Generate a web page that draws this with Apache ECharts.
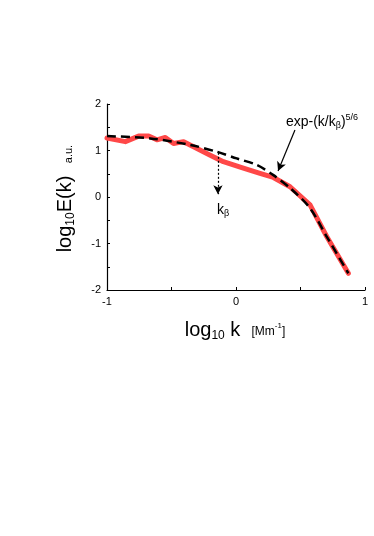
<!DOCTYPE html>
<html>
<head>
<meta charset="utf-8">
<script src="https://cdn.jsdelivr.net/npm/echarts@6/dist/echarts.min.js"></script>
<style>
  html, body { margin: 0; padding: 0; background: #fff; }
  #chart { width: 374px; height: 536px; }
</style>
</head>
<body>
<div id="chart"></div>
<script>
// measured spectrum (red) and fitted exp-(k/kb)^5/6 curve (dashed)
const measuredLogK = [-1, -0.858, -0.755, -0.677, -0.613, -0.548, -0.484, -0.406, -0.329, -0.2, -0.098, 0.057, 0.186, 0.29, 0.419, 0.574, 0.703, 0.871];
const measuredLogE = [1.27, 1.19, 1.31, 1.31, 1.23, 1.28, 1.15, 1.19, 1.08, 0.9, 0.76, 0.62, 0.51, 0.42, 0.22, -0.17, -0.85, -1.64];
const fitLogK = [-1, -0.665, -0.355, -0.15, 0.005, 0.16, 0.29, 0.42, 0.574, 0.703, 0.871];
const fitLogE = [1.31, 1.26, 1.12, 0.975, 0.83, 0.69, 0.47, 0.19, -0.24, -0.85, -1.64];
const xTicks = [-1, 0, 1];
const yTicks = [-2, -1, 0, 1, 2];
// annotation arrows [from, to] in data coords
const kbArrow = [[-0.14, 0.95], [-0.14, 0.06]];
const fitArrow = [[0.457, 1.44], [0.326, 0.56]];

const font = 'Liberation Sans, Arial, sans-serif';
const zip = (xs, ys) => xs.map((x, i) => [x, ys[i]]);

const chart = echarts.init(document.getElementById('chart'));
const axisCommon = {
    type: 'value',
    interval: 0.5,
    axisLine: { show: true, onZero: false, lineStyle: { color: '#000', width: 1.2 } },
    axisTick: { show: true, inside: true, length: 3, lineStyle: { color: '#000' } },
    splitLine: { show: false },
    axisLabel: {
        color: '#000', fontFamily: font, fontSize: 11,
        formatter: v => (Number.isInteger(v) ? String(v) : '')
    }
};
chart.setOption({
    animation: false,
    grid: { left: 107, right: 9, top: 104, bottom: 246 },
    xAxis: Object.assign({}, axisCommon, { min: xTicks[0], max: xTicks[xTicks.length - 1],
        axisLabel: Object.assign({}, axisCommon.axisLabel, { margin: 6 }) }),
    yAxis: Object.assign({}, axisCommon, { min: yTicks[0], max: yTicks[yTicks.length - 1],
        axisLabel: Object.assign({}, axisCommon.axisLabel, { margin: 6 }) }),
    series: [
        {
            type: 'line',
            data: zip(measuredLogK, measuredLogE),
            showSymbol: false,
            lineStyle: { color: '#ff4848', width: 5, cap: 'round', join: 'round' },
            z: 2
        },
        {
            type: 'line',
            data: zip(fitLogK, fitLogE),
            showSymbol: false,
            smooth: 0.3,
            lineStyle: { color: '#000', width: 2.5, type: [9, 5] },
            z: 3,
            markLine: {
                silent: true,
                symbol: ['none', 'arrow'],
                symbolSize: [7, 9],
                label: { show: false },
                data: [
                    [{ coord: kbArrow[0], lineStyle: { type: [2, 2], width: 1.2, color: '#000' } }, { coord: kbArrow[1] }],
                    [{ coord: fitArrow[0], lineStyle: { type: 'solid', width: 1.2, color: '#000' } }, { coord: fitArrow[1] }]
                ]
            }
        }
    ],
    graphic: [
        {
            type: 'text', x: 65, y: 214, rotation: Math.PI / 2,
            style: {
                text: '{a|log}{s|10}{a|E(k)}', align: 'center', verticalAlign: 'middle',
                fill: '#000', font: '20px ' + font,
                rich: {
                    a: { fontSize: 20, fontFamily: font, lineHeight: 24 },
                    s: { fontSize: 12, fontFamily: font, lineHeight: 24, verticalAlign: 'bottom', padding: [8, 0, 0, 0] }
                }
            }
        },
        {
            type: 'text', x: 69, y: 154, rotation: Math.PI / 2,
            style: { text: 'a.u.', align: 'center', verticalAlign: 'middle', fill: '#000', font: '11px ' + font }
        },
        {
            type: 'text', x: 235, y: 330,
            style: {
                text: '{a|log}{s|10}{a| k  }{b|[Mm}{p|-1}{b|]}', align: 'center', verticalAlign: 'middle',
                fill: '#000', font: '20px ' + font,
                rich: {
                    a: { fontSize: 20, fontFamily: font, lineHeight: 24 },
                    s: { fontSize: 12, fontFamily: font, lineHeight: 24, verticalAlign: 'bottom', padding: [8, 0, 0, 0] },
                    b: { fontSize: 12, fontFamily: font, lineHeight: 24, padding: [4, 0, 0, 0] },
                    p: { fontSize: 8, fontFamily: font, lineHeight: 24, padding: [0, 0, 8, 0] }
                }
            }
        },
        {
            type: 'text', x: 322, y: 122,
            style: {
                text: '{a|exp-(k/k}{s|β}{a|)}{p|5/6}', align: 'center', verticalAlign: 'middle',
                fill: '#000', font: '14px ' + font,
                rich: {
                    a: { fontSize: 14, fontFamily: font, lineHeight: 20 },
                    s: { fontSize: 9, fontFamily: font, lineHeight: 20, padding: [8, 0, 0, 0] },
                    p: { fontSize: 9, fontFamily: font, lineHeight: 20, padding: [0, 0, 8, 0] }
                }
            }
        },
        {
            type: 'text', x: 223, y: 210,
            style: {
                text: '{a|k}{s|β}', align: 'center', verticalAlign: 'middle',
                fill: '#000', font: '14px ' + font,
                rich: {
                    a: { fontSize: 14, fontFamily: font, lineHeight: 20 },
                    s: { fontSize: 9, fontFamily: font, lineHeight: 20, padding: [8, 0, 0, 0] }
                }
            }
        }
    ]
});
</script>
</body>
</html>
